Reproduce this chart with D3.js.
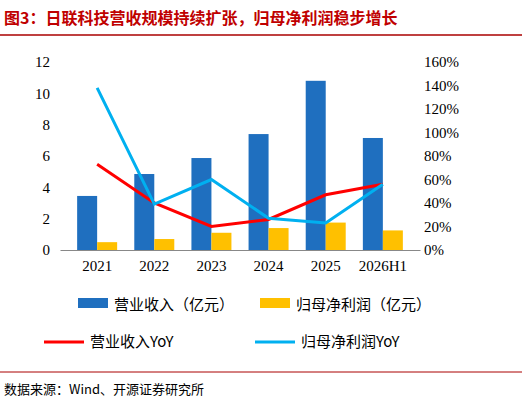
<!DOCTYPE html>
<html><head><meta charset="utf-8">
<script src="https://cdn.jsdelivr.net/npm/d3@7"></script>
<style>body{margin:0;background:#fff;font-family:"Noto Sans CJK SC","Liberation Serif",serif}</style>
</head><body><svg id="c" width="522" height="406"></svg>
<script>
var years = ["2021","2022","2023","2024","2025","2026H1"];
var revenue = [3.45, 4.85, 5.87, 7.4, 10.8, 7.15];
var profit = [0.5, 0.7, 1.1, 1.4, 1.75, 1.25];
var revYoY = [73, 40, 20, 26, 47, 56];
var profitYoY = [138, 39, 60, 27, 23, 56];
var leftTicks = [0,2,4,6,8,10,12];
var rightTicks = [0,20,40,60,80,100,120,140,160];

var svg = d3.select("#c");
var serif = "'Times New Roman','Liberation Serif',serif";

svg.append("text").attr("x",4).attr("y",24).attr("fill","#c00000").attr("font-weight","bold")
  .attr("font-size",16).text("图3：日联科技营收规模持续扩张，归母净利润稳步增长");
svg.append("line").attr("x1",0).attr("x2",522).attr("y1",35).attr("y2",35).attr("stroke","#a00").attr("stroke-width",1.5);
svg.append("line").attr("x1",0).attr("x2",522).attr("y1",372).attr("y2",372).attr("stroke","#a00").attr("stroke-width",1);
svg.append("text").attr("x",4).attr("y",394).attr("font-size",13).text("数据来源：Wind、开源证券研究所");

var x = d3.scaleBand().domain(years).range([60,420]).padding(0.3);
var y = d3.scaleLinear().domain([0,12]).range([250,62]);
var y2 = d3.scaleLinear().domain([0,160]).range([250,62]);

var la = svg.append("g").attr("transform","translate(60,0)")
  .call(d3.axisLeft(y).tickValues(leftTicks).tickSize(0).tickPadding(10));
la.select(".domain").remove();
la.selectAll("text").attr("font-size",15).attr("font-family",serif);
var ra = svg.append("g").attr("transform","translate(420,0)")
  .call(d3.axisRight(y2).tickValues(rightTicks).tickSize(0).tickPadding(4).tickFormat(d=>d+"%"));
ra.select(".domain").remove();
ra.selectAll("text").attr("font-size",15).attr("font-family",serif);
var xa = svg.append("g").attr("transform","translate(0,250)").call(d3.axisBottom(x).tickSize(0).tickPadding(10));
xa.select(".domain").attr("stroke","#888");
xa.selectAll("text").attr("font-size",15).attr("font-family",serif);

var bw = x.bandwidth()/2;
svg.selectAll(".r").data(years).enter().append("rect")
  .attr("x",d=>x(d)).attr("width",bw).attr("y",(d,i)=>y(revenue[i])).attr("height",(d,i)=>250-y(revenue[i])).attr("fill","#1f6fbf");
svg.selectAll(".p").data(years).enter().append("rect")
  .attr("x",d=>x(d)+bw).attr("width",bw).attr("y",(d,i)=>y(profit[i])).attr("height",(d,i)=>250-y(profit[i])).attr("fill","#ffc000");

var line = d3.line().x(d=>x(d[0])+x.bandwidth()/2).y(d=>y2(d[1]));
svg.append("path").datum(years.map((d,i)=>[d,revYoY[i]])).attr("d",line).attr("fill","none").attr("stroke","#ff0000").attr("stroke-width",3);
svg.append("path").datum(years.map((d,i)=>[d,profitYoY[i]])).attr("d",line).attr("fill","none").attr("stroke","#00b0f0").attr("stroke-width",3);

var leg = [
  {t:"营业收入（亿元）",c:"#1f6fbf",k:"rect",x:78,y:305},
  {t:"归母净利润（亿元）",c:"#ffc000",k:"rect",x:260,y:305},
  {t:"营业收入YoY",c:"#ff0000",k:"line",x:44,y:342},
  {t:"归母净利润YoY",c:"#00b0f0",k:"line",x:255,y:342}
];
leg.forEach(function(l){
  if(l.k=="rect") svg.append("rect").attr("x",l.x).attr("y",l.y-7).attr("width",30).attr("height",10).attr("fill",l.c);
  else svg.append("line").attr("x1",l.x).attr("x2",l.x+40).attr("y1",l.y).attr("y2",l.y).attr("stroke",l.c).attr("stroke-width",3);
  svg.append("text").attr("x",l.x+(l.k=="rect"?36:46)).attr("y",l.y+5).attr("font-size",15).text(l.t);
});
</script></body></html>
